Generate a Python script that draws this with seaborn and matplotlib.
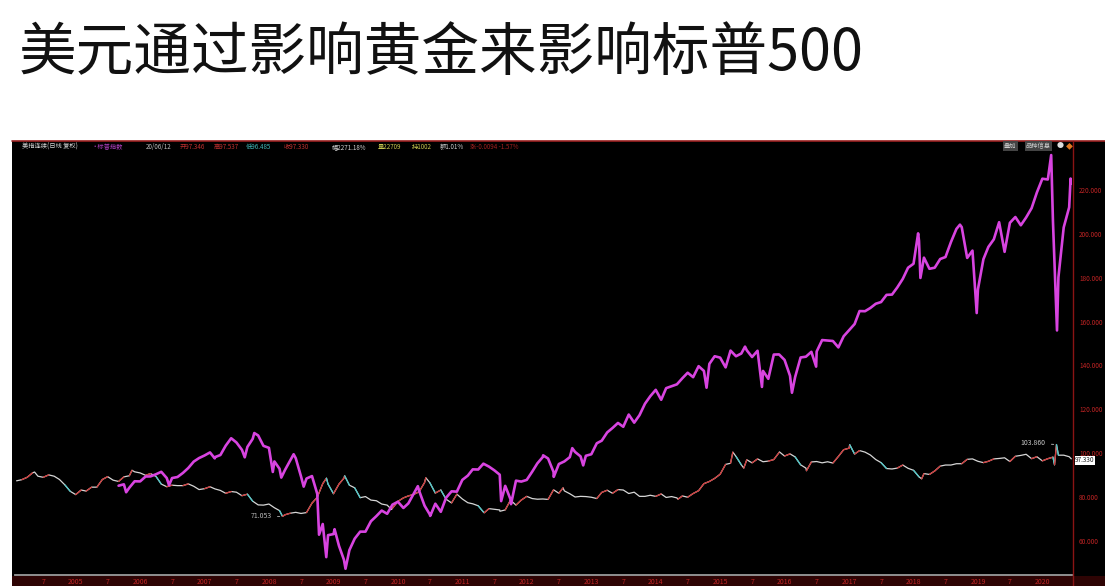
import numpy as np
import pandas as pd
import matplotlib.pyplot as plt
from matplotlib.lines import Line2D
from matplotlib.patches import Rectangle
import seaborn as sns

# ---- data --------------------------------------------------------------
# S&P 500 overlay (magenta), month-end closes 2005-08 .. 2020-05
spx_monthly = [
    1220, 1229, 1207, 1249, 1248,
    1280, 1281, 1295, 1311, 1270, 1270, 1277, 1304, 1336, 1378, 1401, 1418,
    1438, 1407, 1421, 1482, 1531, 1503, 1455, 1474, 1527, 1549, 1481, 1468,
    1379, 1331, 1323, 1386, 1400, 1280, 1267, 1283, 1166, 969, 896, 903,
    826, 735, 798, 873, 919, 919, 987, 1021, 1057, 1036, 1096, 1115,
    1074, 1104, 1169, 1187, 1089, 1031, 1102, 1049, 1141, 1183, 1181, 1258,
    1286, 1327, 1326, 1364, 1345, 1321, 1292, 1219, 1131, 1253, 1247, 1258,
    1312, 1366, 1408, 1398, 1310, 1362, 1379, 1407, 1441, 1412, 1416, 1426,
    1498, 1515, 1569, 1598, 1631, 1606, 1686, 1633, 1682, 1757, 1806, 1848,
    1783, 1859, 1872, 1884, 1924, 1960, 1931, 2003, 1972, 2018, 2068, 2059,
    1995, 2105, 2068, 2086, 2107, 2063, 2104, 1972, 1920, 2079, 2080, 2044,
    1940, 1932, 2060, 2065, 2097, 2099, 2174, 2171, 2168, 2126, 2199, 2239,
    2279, 2364, 2363, 2384, 2412, 2423, 2470, 2472, 2519, 2575, 2648, 2674,
    2824, 2714, 2641, 2648, 2705, 2718, 2816, 2902, 2914, 2712, 2760, 2507,
    2704, 2784, 2834, 2946, 2752, 2942, 2980, 2926, 2977, 3038, 3141, 3231,
    3226, 2954, 2585, 2912, 3044,
]
# intra-month highs / lows that show as spikes on the chart
spx_extra_dates = [
    "2005-10-13", "2006-06-13", "2007-02-27", "2007-08-16", "2007-10-09",
    "2008-01-22", "2008-03-10", "2008-05-19", "2008-07-15", "2008-10-10",
    "2008-11-20", "2009-01-06", "2009-03-09", "2010-04-23", "2010-07-02",
    "2011-04-29", "2011-08-08", "2011-10-03", "2012-04-02", "2012-06-01",
    "2012-09-14", "2012-11-15", "2014-10-15", "2015-05-21", "2015-08-25",
    "2016-02-11", "2016-06-27", "2018-01-26", "2018-02-08", "2018-09-20",
    "2018-12-24", "2020-02-19", "2020-03-23", "2020-06-08", "2020-06-12",
]
spx_extra_vals = [
    1177, 1223, 1399, 1406, 1565,
    1310, 1273, 1426, 1214, 899,
    752, 935, 676, 1217, 1022,
    1364, 1119, 1099, 1419, 1278,
    1466, 1353, 1862, 2131, 1867,
    1829, 2000, 2873, 2581, 2930,
    2351, 3386, 2237, 3232, 3200,
]

# US dollar index, month-end closes 2004-01 .. 2020-05
dxy_monthly = [
    87.3, 87.8, 88.9, 90.9, 89.4, 88.9, 90.0, 89.4, 87.9, 85.4, 82.5, 81.0,
    83.1, 82.6, 84.4, 84.4, 87.9, 89.2, 87.6, 87.0, 89.1, 89.6, 91.4, 90.9,
    89.8, 90.6, 89.3, 85.8, 84.6, 85.3, 85.1, 85.1, 85.9, 84.8, 83.3, 83.7,
    84.6, 83.6, 82.9, 81.6, 82.4, 82.1, 80.5, 81.2, 78.0, 76.3, 76.2, 76.7,
    75.0, 73.7, 71.8, 72.5, 72.9, 72.4, 72.8, 77.1, 79.8, 86.0, 85.8, 81.4,
    85.8, 88.5, 85.3, 84.1, 79.6, 80.1, 78.5, 78.2, 76.7, 76.2, 74.8, 77.9,
    79.5, 80.4, 81.1, 82.3, 86.5, 86.4, 81.7, 83.1, 78.9, 77.2, 81.2, 79.0,
    77.3, 76.8, 75.9, 73.0, 74.6, 74.3, 74.0, 74.0, 78.5, 76.2, 78.5, 80.2,
    79.2, 78.9, 79.0, 78.8, 83.2, 81.6, 82.7, 81.4, 79.9, 80.2, 80.1, 79.8,
    79.2, 82.0, 83.0, 81.6, 83.3, 83.1, 81.5, 82.1, 80.2, 80.2, 80.7, 80.2,
    81.3, 79.7, 80.1, 79.5, 80.4, 79.8, 81.5, 82.8, 86.0, 87.0, 88.4, 90.3,
    94.8, 95.3, 98.4, 94.6, 96.9, 95.5, 97.3, 96.0, 96.3, 97.0, 100.2, 98.6,
    99.6, 98.2, 94.6, 93.1, 95.9, 96.1, 95.5, 96.0, 95.4, 98.4, 101.5, 102.2,
    99.5, 101.1, 100.4, 99.1, 97.0, 95.6, 92.9, 92.7, 93.1, 94.5, 93.0, 92.1,
    89.1, 90.6, 90.2, 91.8, 94.0, 94.5, 94.5, 95.1, 95.1, 97.1, 97.3, 96.2,
    95.6, 96.2, 97.3, 97.5, 97.8, 96.1, 98.5, 98.9, 99.4, 97.4, 98.3, 96.4,
    97.4, 98.1, 99.0, 99.0, 98.3,
]
dxy_extra_dates = [
    "2004-05-12", "2005-11-15", "2008-03-17", "2008-11-21", "2009-03-04",
    "2009-11-25", "2010-06-07", "2011-05-04", "2011-08-01", "2012-07-24",
    "2014-05-06", "2015-03-13", "2015-05-14", "2015-12-02", "2016-05-03",
    "2017-01-03", "2018-02-15", "2020-03-09", "2020-03-20", "2020-06-12",
]
dxy_extra_vals = [
    91.3, 92.1, 71.053, 88.5, 89.6,
    74.2, 88.7, 72.7, 73.4, 84.1,
    78.9, 100.4, 93.1, 100.5, 91.9,
    103.8, 88.2, 94.6, 103.86, 97.33,
]

right_ticks = [60, 80, 100, 120, 140, 160, 180, 200, 220]
title = "美元通过影响黄金来影响标普500"

# ---- assemble ----------------------------------------------------------
dxy_months = pd.date_range("2004-01-31", periods=len(dxy_monthly), freq="ME")
spx_months = pd.date_range("2005-08-31", periods=len(spx_monthly), freq="ME")
spx = pd.DataFrame({"date": list(spx_months) + list(pd.to_datetime(spx_extra_dates)),
                    "value": spx_monthly + spx_extra_vals}).sort_values("date")
dxy = pd.DataFrame({"date": list(dxy_months) + list(pd.to_datetime(dxy_extra_dates)),
                    "value": dxy_monthly + dxy_extra_vals}).sort_values("date")

sns.set_style("dark")
plt.rcParams["font.family"] = ["Noto Sans CJK SC", "DejaVu Sans"]

W, H = 1105, 586
fig = plt.figure(figsize=(W / 100, H / 100), dpi=100, facecolor="white")

def fx(px):
    return px / W

def fy(py):
    return 1 - py / H

# black terminal panel and bottom date band (behind the axes)
fig.patches.append(Rectangle((fx(12), 0), 1 - fx(12), fy(141), transform=fig.transFigure,
                             facecolor="black", edgecolor="none", zorder=-2))
fig.patches.append(Rectangle((fx(12), 0), 1 - fx(12), fy(576), transform=fig.transFigure,
                             facecolor="#2e0404", edgecolor="none", zorder=-1))
fig.lines.append(Line2D([fx(12), 1], [fy(141), fy(141)], transform=fig.transFigure,
                        color="#9a2020", lw=1.2))
fig.lines.append(Line2D([fx(1073), fx(1073)], [0, fy(141)], transform=fig.transFigure,
                        color="#8a1414", lw=1.0))

fig.text(fx(19), fy(54), title, fontsize=41.5, color="#111111", va="center", ha="left")

ax = fig.add_axes([fx(15), fy(575), fx(1072) - fx(15), fy(152) - fy(575)])
ax.patch.set_alpha(0)
ax.grid(False)

# dollar index: light line, rising legs red, sharp drops cyan
sns.lineplot(data=dxy, x="date", y="value", ax=ax, color="#d6d6d6", lw=0.9)
d, v = dxy["date"].to_numpy(), dxy["value"].to_numpy()
for i in range(1, len(v)):
    step = v[i] - v[i - 1]
    if step > 0.6:
        ax.plot(d[i - 1:i + 1], v[i - 1:i + 1], color="#d03838", lw=0.9)
    elif step < -2.5:
        ax.plot(d[i - 1:i + 1], v[i - 1:i + 1], color="#4cc8c8", lw=0.9)

# S&P 500 overlay on its own (hidden) scale, proportional to the dollar axis
ax2 = ax.twinx()
sns.lineplot(data=spx, x="date", y="value", ax=ax2, color="#d844e0", lw=1.9)
ax2.set_ylim(635, 3406)
ax2.set_yticks([])
ax2.set_ylabel("")
ax2.grid(False)
for s in ax2.spines.values():
    s.set_visible(False)

ax.set_ylim(44.3, 237.4)
ax.set_xlim(pd.Timestamp("2004-01-22"), pd.Timestamp("2020-06-16"))
ax.set_xlabel("")
ax.set_ylabel("")
ax.yaxis.tick_right()
ax.set_yticks(right_ticks)
ax.set_yticklabels([f"{t:.3f}" for t in right_ticks])
ax.tick_params(axis="y", colors="#c02424", labelsize=4.6, length=0, pad=5)

years = pd.date_range("2005-01-01", "2020-01-01", freq="YS")
halves = pd.date_range("2004-07-01", "2019-07-01", freq="12MS")
ticks = sorted(list(years) + list(halves))
ax.set_xticks(ticks)
ax.set_xticklabels([str(t.year) if t.month == 1 else "7" for t in ticks])
ax.tick_params(axis="x", colors="#c02424", labelsize=5, length=0, pad=2)

for s in ["left", "top", "right"]:
    ax.spines[s].set_visible(False)
ax.spines["bottom"].set_color("#9c9c9c")
ax.spines["bottom"].set_linewidth(1.3)

# labels on the dollar line
ax.annotate("71.053", xy=(pd.Timestamp("2008-03-17"), 71.053), xytext=(-8, 0),
            textcoords="offset points", ha="right", va="center", fontsize=5,
            color="#b8b8b8", arrowprops=dict(arrowstyle="-", color="#b8b8b8", lw=0.6))
ax.annotate("103.860", xy=(pd.Timestamp("2020-03-20"), 103.86), xytext=(-8, 1),
            textcoords="offset points", ha="right", va="center", fontsize=5,
            color="#c8c8c8", arrowprops=dict(arrowstyle="-", color="#c8c8c8", lw=0.6))
ax.text(1.003, 96.6, "97.330", transform=ax.get_yaxis_transform(), fontsize=4.6,
        color="#222222", va="center", ha="left",
        bbox=dict(boxstyle="square,pad=0.1", facecolor="white", edgecolor="none"))

# header strip of the terminal
hy = fy(147)
header = [
    (22, "美指连续(日线 复权)", "#d8d8d8"),
    (92, "·标普指数", "#b040c0"),
    (146, "20/06/12", "#bdbdbd"),
    (180, "开97.346", "#c03030"),
    (214, "高97.537", "#c03030"),
    (246, "低96.485", "#40b8b8"),
    (284, "收97.330", "#c03030"),
    (332, "幅2271.18%", "#d0d0d0"),
    (378, "量22709", "#c8c850"),
    (412, "持1002", "#c8c850"),
    (440, "额1.01%", "#d0d0d0"),
    (470, "涨-0.0094 -1.57%", "#a02020"),
]
for x0, s, c in header:
    fig.text(fx(x0), hy, s, fontsize=4.5, color=c, va="center", ha="left")
fig.text(fx(1004), fy(146), "叠加", fontsize=4.5, color="#cccccc", va="center",
         bbox=dict(boxstyle="square,pad=0.2", facecolor="#444444", edgecolor="none"))
fig.text(fx(1026), fy(146), "品种信息", fontsize=4.5, color="#cccccc", va="center",
         bbox=dict(boxstyle="square,pad=0.2", facecolor="#444444", edgecolor="none"))
fig.text(fx(1060), fy(146), "●", fontsize=5, color="#dddddd", va="center", ha="center")
fig.text(fx(1069), fy(146), "◆", fontsize=5, color="#e07820", va="center", ha="center")

fig.savefig("out.png", dpi=100, facecolor="white")
